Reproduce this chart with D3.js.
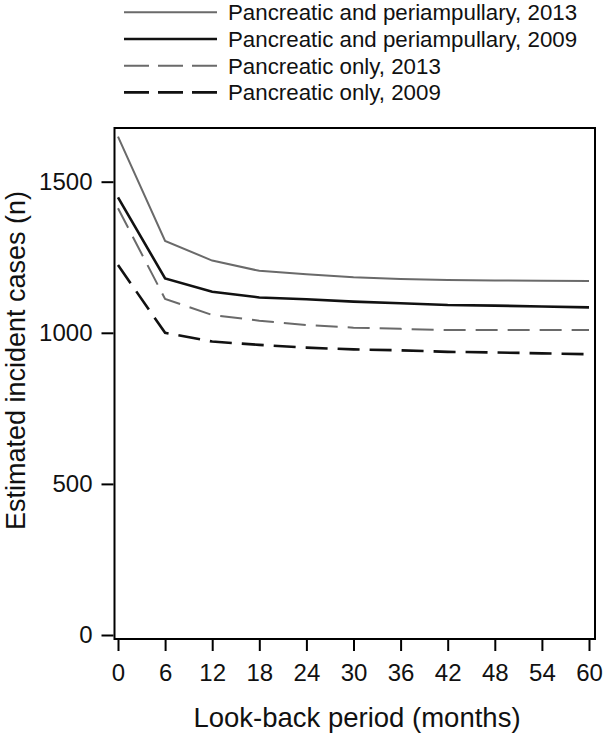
<!DOCTYPE html>
<html>
<head>
<meta charset="utf-8">
<script src="https://cdn.jsdelivr.net/npm/d3@7"></script>
<style>
body { margin: 0; background: #fff; }
text { font-family: "Liberation Sans", Arial, sans-serif; fill: #111; }
</style>
</head>
<body>
<svg id="chart" width="603" height="736"></svg>
<script>
// look-back period in months
var months = [0, 6, 12, 18, 24, 30, 36, 42, 48, 54, 60];
var panPeri2013 = [1649, 1304, 1239, 1205, 1194, 1184, 1178, 1175, 1173, 1172, 1171];
var panPeri2009 = [1448, 1180, 1136, 1117, 1111, 1103, 1098, 1092, 1090, 1087, 1084];
var panOnly2013 = [1412, 1112, 1059, 1040, 1026, 1017, 1013, 1009, 1009, 1009, 1009];
var panOnly2009 = [1224, 1000, 971, 960, 951, 945, 942, 937, 935, 932, 929];
var seriesNames = ["Pancreatic and periampullary, 2013", "Pancreatic and periampullary, 2009",
                   "Pancreatic only, 2013", "Pancreatic only, 2009"];
var yTicks = [0, 500, 1000, 1500];

var styles = [
  {color: "#6a6a6a", width: 2, dash: null},
  {color: "#111", width: 2.6, dash: null},
  {color: "#6a6a6a", width: 2, dash: "22,10"},
  {color: "#111", width: 2.6, dash: "22,10"}
];
var allSeries = [panPeri2013, panPeri2009, panOnly2013, panOnly2009];

var svg = d3.select("#chart");
var frame = {left: 114.5, right: 595, top: 128, bottom: 639};

var x = d3.scaleLinear().domain([0, 60]).range([118, 589]);
var y = d3.scaleLinear().domain([0, 1500]).range([635, 181.7]);

// frame box
svg.append("rect")
  .attr("x", frame.left).attr("y", frame.top)
  .attr("width", frame.right - frame.left)
  .attr("height", frame.bottom - frame.top)
  .attr("fill", "none").attr("stroke", "#000").attr("stroke-width", 2);

// y axis
var yAxis = svg.append("g")
  .attr("transform", "translate(" + (frame.left - 1) + ",0)")
  .call(d3.axisLeft(y).tickValues(yTicks).tickSize(12).tickPadding(9).tickFormat(d3.format("d")));
yAxis.select(".domain").remove();
yAxis.selectAll(".tick line").attr("stroke", "#000").attr("stroke-width", 2);
yAxis.selectAll(".tick text").style("font-size", "24px").style("font-family", "Liberation Sans, Arial, sans-serif").attr("fill", "#111");

// x axis
var xAxis = svg.append("g")
  .attr("transform", "translate(0," + (frame.bottom + 1) + ")")
  .call(d3.axisBottom(x).tickValues(months).tickSize(11).tickPadding(13));
xAxis.select(".domain").remove();
xAxis.selectAll(".tick line").attr("stroke", "#000").attr("stroke-width", 2);
xAxis.selectAll(".tick text").style("font-size", "24px").style("font-family", "Liberation Sans, Arial, sans-serif").attr("fill", "#111");

// axis titles
svg.append("text")
  .attr("x", 357).attr("y", 727)
  .attr("text-anchor", "middle")
  .style("font-size", "27.5px")
  .text("Look-back period (months)");

svg.append("text")
  .attr("transform", "translate(25,360.5) rotate(-90)")
  .attr("text-anchor", "middle")
  .style("font-size", "27px")
  .text("Estimated incident cases (n)");

// lines
var line = d3.line()
  .x(function(d, i) { return x(months[i]); })
  .y(function(d) { return y(d); });

allSeries.forEach(function(s, i) {
  svg.append("path")
    .datum(s)
    .attr("d", line)
    .attr("fill", "none")
    .attr("stroke", styles[i].color)
    .attr("stroke-width", styles[i].width)
    .attr("stroke-dasharray", styles[i].dash);
});

// legend
var legend = svg.append("g");
seriesNames.forEach(function(name, i) {
  var ly = 12.3 + i * 26.7;
  legend.append("line")
    .attr("x1", 124).attr("x2", 217)
    .attr("y1", ly).attr("y2", ly)
    .attr("stroke", styles[i].color)
    .attr("stroke-width", styles[i].width)
    .attr("stroke-dasharray", styles[i].dash ? "25,9" : null);
  legend.append("text")
    .attr("x", 228).attr("y", ly)
    .attr("dy", "0.36em")
    .style("font-size", "22.3px")
    .text(name);
});
</script>
</body>
</html>
